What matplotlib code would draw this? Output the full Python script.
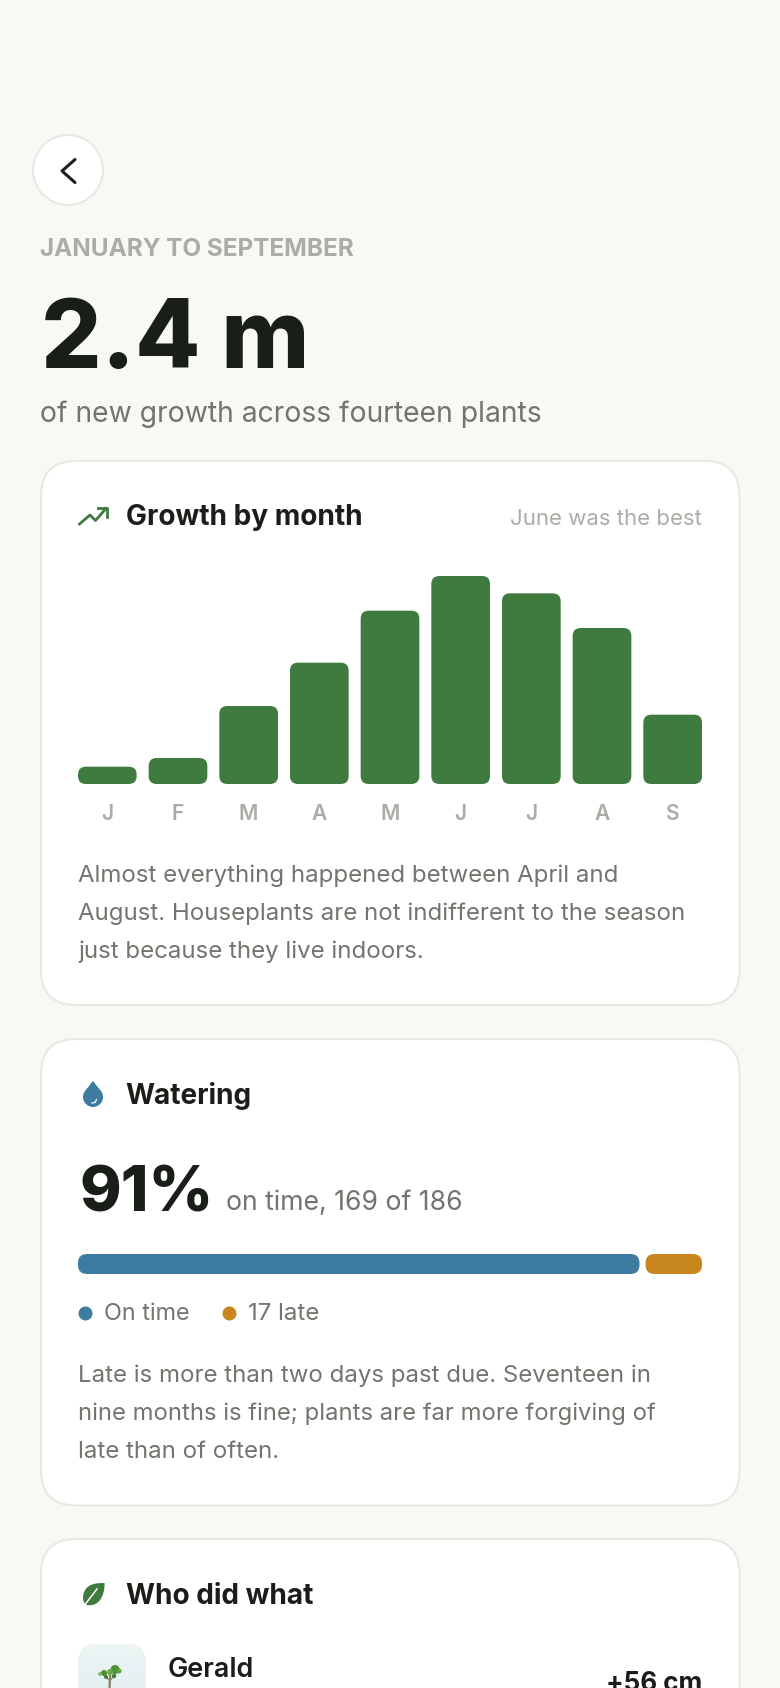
import matplotlib
matplotlib.use('Agg')
import matplotlib.pyplot as plt
from matplotlib.patches import FancyBboxPatch, Circle, PathPatch
from matplotlib.path import Path
import numpy as np

# values, cm per month, total 240
months = ['J', 'F', 'M', 'A', 'M', 'J', 'J', 'A', 'S']
growth_cm = [4, 6, 18, 28, 40, 48, 44, 36, 16]
# waterings on time / late
watering = [169, 17]

W, H = 780, 1688
BG = '#f8f9f5'
BORDER = '#e8e9e1'
INK = '#1a1e18'
MID = '#71756d'
MUTED = '#a9ada5'
GREEN = '#3f7b3f'
BLUE = '#3d7ca0'
AMBER = '#c8871e'

plt.rcParams['font.family'] = ['Inter', 'DejaVu Sans']

fig = plt.figure(figsize=(W / 100, H / 100), dpi=100, facecolor=BG)
ui = fig.add_axes([0, 0, 1, 1])
ui.axis('off')


def px_axes(x0, y0, x1, y1):
    # axes placed in picture pixels, y measured from the top
    ax = fig.add_axes([x0 / W, 1 - y1 / H, (x1 - x0) / W, (y1 - y0) / H])
    ax.patch.set_alpha(0)
    for s in ax.spines.values():
        s.set_visible(False)
    return ax


def label(x, y, s, size, color=INK, weight='normal', ha='left'):
    return ui.text(x, y, s, fontsize=size * 0.72, color=color, fontweight=weight, ha=ha, va='baseline')


def card(y0, y1):
    ui.add_patch(FancyBboxPatch((41, y0), 698.5, y1 - y0, boxstyle='round,pad=0,rounding_size=35',
                                fc='white', ec=BORDER, lw=1.5))


# header
ui.add_patch(Circle((68, 170), 35, fc='white', ec=BORDER, lw=1.5))
ui.plot([75, 62, 75], [159.5, 171, 182.5], color=INK, lw=2.2, solid_capstyle='round', solid_joinstyle='round')
label(40, 256, 'JANUARY TO SEPTEMBER', 24.3, MUTED, 'bold')
label(41, 368, '2.4 m', 95, INK, 'heavy')
label(40, 422, 'of new growth across fourteen plants', 28.3, MID)

# growth card
card(461, 1005)
ui.plot([79.5, 90, 95.5, 106], [524, 515, 520.5, 508.5], color=GREEN, lw=2, solid_joinstyle='round')
ui.plot([97.5, 106.5, 106.5], [508, 508, 517], color=GREEN, lw=2, solid_joinstyle='round')
label(126, 525, 'Growth by month', 28, INK, 'bold')
label(702, 525, 'June was the best', 22.2, MUTED, ha='right')

pitch = 636 / 9
ax = px_axes(72, 576, 708, 784)
ax.set_xlim(-0.5, 8.5)
ax.set_ylim(0, max(growth_cm))
bar_w = 58.67 / pitch
px_per_cm = 208 / max(growth_cm)
for i, v in enumerate(growth_cm):
    ax.add_patch(FancyBboxPatch((i - bar_w / 2, 0), bar_w, v, boxstyle='round,pad=0,rounding_size=%f' % (8 / pitch),
                                mutation_aspect=pitch / px_per_cm, fc=GREEN, ec='none'))
ax.set_yticks([])
ax.set_xticks(range(len(months)))
ax.set_xticklabels(months, fontsize=21 * 0.72, fontweight='semibold', color=MUTED)
ax.tick_params(axis='x', length=0, pad=14.5)

label(78, 882, 'Almost everything happened between April and', 24, MID)
label(78, 920, 'August. Houseplants are not indifferent to the season', 24, MID)
label(78, 958, 'just because they live indoors.', 24, MID)

# watering card
card(1039, 1505.5)
drop = Path([(93, 1081), (88, 1088), (83, 1091), (83, 1097), (83, 1103), (88, 1107), (93, 1107),
             (98, 1107), (103, 1103), (103, 1097), (103, 1091), (98, 1088), (93, 1081)],
            [Path.MOVETO] + [Path.CURVE4] * 12)
ui.add_patch(PathPatch(drop, fc=BLUE, ec='none'))
ui.plot([92, 95, 96.5], [1103, 1102.5, 1099.5], color='white', lw=0.9)
label(125.5, 1104, 'Watering', 28, INK, 'bold')
label(79, 1211, '91%', 63, INK, 'heavy')
label(226, 1210, 'on time, 169 of 186', 26.6, MID)

bx = px_axes(78, 1254, 702, 1274)
total = sum(watering)
gap = 6 * total / 624
unit = (total - gap) / total
bx.set_xlim(0, total)
bx.set_ylim(0, 1)
bx.set_xticks([])
bx.set_yticks([])
aspect = (1 / 20) / (total / 624)
left = 0
for v, c in zip(watering, [BLUE, AMBER]):
    bx.add_patch(FancyBboxPatch((left, 0), v * unit, 1, boxstyle='round,pad=0,rounding_size=%f' % (9 * total / 624),
                                mutation_aspect=aspect, fc=c, ec='none'))
    left += v * unit + gap

ui.plot([85], [1313], 'o', ms=14 * 0.72, color=BLUE, mec='none')
label(104, 1320, 'On time', 23.4, MID)
ui.plot([229], [1313], 'o', ms=14 * 0.72, color=AMBER, mec='none')
label(248, 1320, '17 late', 24, MID)

label(78, 1382, 'Late is more than two days past due. Seventeen in', 24, MID)
label(78, 1420, 'nine months is fine; plants are far more forgiving of', 23.8, MID)
label(78, 1458, 'late than of often.', 24, MID)

# who did what card
card(1539, 1760)
leaf = Path([(104.5, 1583), (95, 1583), (86, 1584), (83.5, 1594), (82, 1600), (84, 1604), (87, 1605),
             (98, 1607), (105, 1597), (104.5, 1583)],
            [Path.MOVETO] + [Path.CURVE4] * 9)
ui.add_patch(PathPatch(leaf, fc=GREEN, ec='none'))
ui.plot([83.5, 97], [1606.5, 1589], color='white', lw=1.1)
label(126, 1604, 'Who did what', 28, INK, 'bold')

# plant thumbnail, tree drawn by hand
thumb = FancyBboxPatch((78, 1644), 68, 68, boxstyle='round,pad=0,rounding_size=20', fc='#e8f2f2', ec='none')
ui.add_patch(thumb)
shade = np.linspace(0, 1, 64).reshape(-1, 1)
im = ui.imshow(shade, extent=(78, 146, 1712, 1644), aspect='auto', zorder=2,
               cmap=matplotlib.colors.LinearSegmentedColormap.from_list('t', ['#edf5f4', '#dfeef1']))
im.set_clip_path(thumb)
ui.plot([110, 109.5], [1676, 1690], color='#8d7f6e', lw=1.6, zorder=3)
ui.plot([104, 110, 115], [1675, 1681, 1674], color='#8d7f6e', lw=0.8, zorder=3)
for cx, cy, r, c in [(115, 1669.5, 4.5, '#4d8f35'), (119, 1671, 2.5, '#5fa33e'), (104, 1673, 3, '#4d8f35'),
                     (110, 1672, 3, '#6aab47'), (100, 1674, 1.8, '#7ab55a'), (114, 1676, 2.2, '#3f7f30'),
                     (106, 1677, 2, '#3f7f30')]:
    ui.add_patch(Circle((cx, cy), r, fc=c, ec='none', zorder=3))

label(168, 1677, 'Gerald', 27, INK, 'semibold')
label(702, 1691, '+56 cm', 26, INK, 'bold', ha='right')

ui.set_xlim(0, W)
ui.set_ylim(H, 0)

fig.savefig('out.png', dpi=100, facecolor=BG)
